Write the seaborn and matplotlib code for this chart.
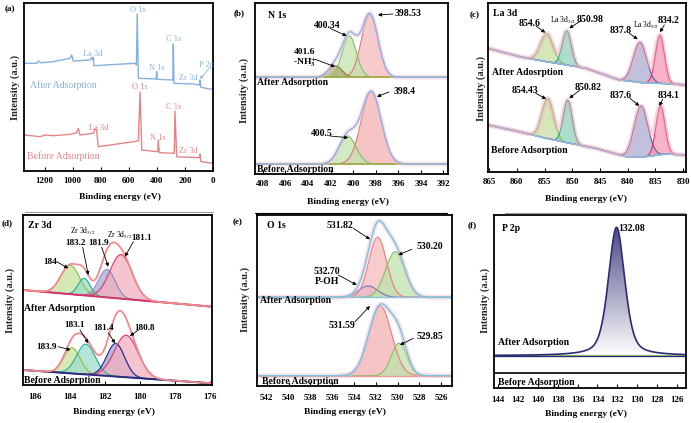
import numpy as np
import matplotlib.pyplot as plt
import seaborn as sns
from matplotlib.colors import LinearSegmentedColormap
from matplotlib.lines import Line2D

W, H = 691, 423

# ---------------- (a) survey spectra (binding energy eV / intensity a.u.) ----------------
survey_after_be = [1340, 1257, 1245, 1228, 1138, 1019, 1007, 996, 877, 865, 857, 853, 848,
                   556, 546, 540, 532, 406, 401, 397, 287, 283, 278, 140, 98, 93, 86, 9]
survey_after_int = [107.7, 107.7, 110, 108.3, 109.3, 112.7, 116, 110, 111, 113.7, 111, 113.7, 105.3,
                    107.7, 106, 157, 92.7, 92, 99.3, 91.7, 91, 127, 87.7, 87, 86, 91, 83.7, 81.7]
survey_before_be = [1340, 1233, 1197, 1138, 1019, 971, 960, 948, 853, 841, 829, 818,
                    532, 520, 508, 394, 390, 383, 276, 271, 259, 98, 93, 86, 0]
survey_before_int = [36, 34.3, 36, 35.3, 36.7, 38.3, 42.7, 36, 37.7, 42, 41, 24.3,
                     30, 79, 21, 19.3, 31, 18.3, 17.7, 60, 14.3, 13.3, 16.7, 9.3, 7.7]

# ---------------- (b) N 1s ----------------
n1s_after_bg_be = [408.7, 391.6]
n1s_after_bg_int = [96.7, 96.7]
n1s_after_centers = [398.53, 400.34, 401.6]
n1s_after_heights = [63.3, 41.3, 11.6]
n1s_after_fwhm = [1.71, 1.48, 1.4]
n1s_before_bg_be = [408.7, 391.6]
n1s_before_bg_int = [10, 10]
n1s_before_centers = [398.4, 400.5]
n1s_before_heights = [72.3, 28.0]
n1s_before_fwhm = [2.07, 1.77]

# ---------------- (c) La 3d ----------------
la3d_after_bg_be = [865.2, 859.5, 854.7, 851.1, 847.5, 841.5, 837.3, 831.8, 829.5]
la3d_after_bg_int = [123.4, 115, 110, 106.7, 103.4, 91.7, 89, 87.7, 86.7]
la3d_after_centers = [854.6, 850.98, 837.8, 834.2]
la3d_after_heights = [28, 34, 40, 48]
la3d_after_fwhm = [2.7, 1.9, 2.8, 1.9]
la3d_before_bg_be = [865.2, 859.5, 854.7, 850.5, 845.7, 840.3, 836.7, 833.1, 829.5]
la3d_before_bg_int = [46.7, 40, 33.4, 28.4, 23.4, 15, 15, 17.7, 16.7]
la3d_before_centers = [854.43, 850.82, 837.6, 834.1]
la3d_before_heights = [40, 42.7, 50.7, 48.7]
la3d_before_fwhm = [2.5, 1.9, 2.9, 1.9]

# ---------------- (d) Zr 3d ----------------
zr3d_after_bg_be = [186.7, 175.9]
zr3d_after_bg_int = [95, 78.3]
zr3d_after_centers = [184.0, 183.2, 181.9, 181.1]
zr3d_after_heights = [29, 17, 28, 44]
zr3d_after_fwhm = [1.25, 0.8, 1.1, 1.5]
zr3d_before_bg_be = [186.7, 175.9]
zr3d_before_bg_int = [15, 1.7]
zr3d_before_centers = [183.9, 183.1, 181.4, 180.8]
zr3d_before_heights = [25.7, 30.3, 33, 42]
zr3d_before_fwhm = [1.1, 1.25, 1.2, 1.6]

# ---------------- (e) O 1s ----------------
o1s_after_bg_be = [542.9, 525.0]
o1s_after_bg_int = [88.7, 88.7]
o1s_after_centers = [532.70, 531.82, 530.20]
o1s_after_heights = [11.3, 60, 45.6]
o1s_after_fwhm = [2.1, 1.9, 2.1]
o1s_before_bg_be = [542.9, 525.0]
o1s_before_bg_int = [10.3, 10.3]
o1s_before_centers = [531.59, 529.85]
o1s_before_heights = [69.7, 32.4]
o1s_before_fwhm = [2.45, 1.7]

# ---------------- (f) P 2p ----------------
p2p_after_bg_be = [144.4, 125.1]
p2p_after_bg_int = [32.3, 32.3]
p2p_after_centers = [132.08]
p2p_after_heights = [128.4]
p2p_after_fwhm = [1.95]
p2p_lorentz_frac = 0.45
p2p_divider = 14.7


def peak(x, c, h, fwhm, eta=0.0):
    g = np.exp(-4 * np.log(2) * ((x - c) / fwhm) ** 2)
    lo = 1 / (1 + 4 * ((x - c) / fwhm) ** 2)
    return h * ((1 - eta) * g + eta * lo)


sns.set_theme(style="white")
plt.rcParams["font.family"] = ["Liberation Serif", "DejaVu Serif"]
plt.rcParams["mathtext.fontset"] = "stix"

fig = plt.figure(figsize=(W / 100, H / 100), dpi=100)


def add_panel(l, t, r, b, xlim, ylim, ticks, pad):
    ax = fig.add_axes([l / W, 1 - b / H, (r - l) / W, (b - t) / H])
    ax.set_xlim(*xlim)
    ax.set_ylim(*ylim)
    ax.set_xticks(ticks)
    ax.set_xticklabels([str(t) for t in ticks], fontweight="bold")
    ax.set_yticks([])
    ax.tick_params(axis="x", direction="in", length=3, width=0.8, labelsize=6.5,
                   pad=pad, colors="black", bottom=True)
    for s in ax.spines.values():
        s.set_linewidth(1.3)
        s.set_color("black")
    return ax


def spectrum(ax, bg_be, bg_int, centers, heights, fwhms, edges, fills,
             env_col, bg_col, raw_col=None, bg_lw=1.0, env_lw=1.0, fill_alpha=0.75):
    lo, hi = sorted(ax.get_xlim())
    x = np.linspace(lo, hi, 800)
    base = np.interp(x, bg_be[::-1], bg_int[::-1])
    total = np.zeros_like(x)
    for c, h, f, ec, fc in zip(centers, heights, fwhms, edges, fills):
        comp = peak(x, c, h, f)
        ax.fill_between(x, base, base + comp, color=fc, alpha=fill_alpha, lw=0)
        sns.lineplot(x=x, y=base + comp, color=ec, lw=0.9, ax=ax)
        total += comp
    sns.lineplot(x=bg_be, y=bg_int, color=bg_col, lw=bg_lw, ax=ax)
    if raw_col is not None:
        sns.lineplot(x=x, y=base + total, color=raw_col, lw=3.5, alpha=0.45, ax=ax)
    if env_col is not None:
        sns.lineplot(x=x, y=base + total, color=env_col, lw=env_lw, ax=ax)
    return x, base, total


def ftext(x, y, s, ha="center", size=7, weight="bold", color="black", **kw):
    fig.text(x / W, 1 - y / H, s, ha=ha, va="center", fontsize=size,
             fontweight=weight, color=color, **kw)


def arrow(ax, x0, y0, x1, y1):
    ax.annotate("", xy=(x1 / W, 1 - y1 / H), xycoords="figure fraction",
                xytext=(x0 / W, 1 - y0 / H), textcoords="figure fraction",
                arrowprops=dict(arrowstyle="-|>", color="black", lw=0.6,
                                shrinkA=0, shrinkB=0, mutation_scale=5),
                annotation_clip=False)


def frame_labels(x_ylab, y_ylab, x_xlab, y_xlab, letter, lx, ly):
    fig.text(x_ylab / W, 1 - y_ylab / H, "Intensity (a.u.)", rotation=90,
             ha="center", va="center", fontsize=7.5, fontweight="bold")
    ftext(x_xlab, y_xlab, "Binding energy (eV)", size=6.8)
    ftext(lx, ly, letter, size=6.5)


# ===== (a) =====
blue_a, red_a = "#86b1df", "#e48585"
ax_a = add_panel(24, 3, 213, 171, (1347, 0), (0, 168), [1200, 1000, 800, 600, 400, 200, 0], 4)
sns.lineplot(x=survey_after_be, y=survey_after_int, sort=False, estimator=None,
             color=blue_a, lw=1.0, ax=ax_a)
sns.lineplot(x=survey_before_be, y=survey_before_int, sort=False, estimator=None,
             color=red_a, lw=1.0, ax=ax_a)
ax_a.set_xlim(1347, 0)
ax_a.set_ylim(0, 168)
for s, x, y in [("O 1s", 138.3, 10), ("La 3d", 92.3, 54), ("N 1s", 157.3, 68.3),
                ("C 1s", 173.3, 39.3), ("Zr 3d", 188.3, 78.3)]:
    ftext(x, y, s, size=6, weight="normal", color=blue_a)
ax_a.text(206.7 / W, 1 - 65 / H, "P 2p", transform=fig.transFigure, ha="center", va="center",
          fontsize=6, color=blue_a, clip_on=True)
ax_a.annotate("", xy=(200 / W, 1 - 79 / H), xycoords="figure fraction",
              xytext=(209 / W, 1 - 68.5 / H), textcoords="figure fraction",
              arrowprops=dict(arrowstyle="-|>", color=blue_a, lw=0.6, shrinkA=0, shrinkB=0,
                              mutation_scale=4), annotation_clip=False)
for s, x, y in [("O 1s", 140, 87.3), ("La 3d", 99, 127.7), ("N 1s", 158.3, 138.3),
                ("C 1s", 174, 106.7), ("Zr 3d", 188.3, 151)]:
    ftext(x, y, s, size=6, weight="normal", color=red_a)
ftext(30, 85, "After Adsorption", ha="left", size=7, weight="normal", color=blue_a)
ftext(27.3, 155.7, "Before Adsorption", ha="left", size=7, weight="normal", color=red_a)
frame_labels(15, 87.5, 120, 196.7, "(a)", 10, 9)

# ===== (b) =====
ax_b = add_panel(255, 3, 448, 174, (408.7, 391.6), (0, 171),
                 [408, 406, 404, 402, 400, 398, 396, 394, 392], 4)
spectrum(ax_b, n1s_after_bg_be, n1s_after_bg_int, n1s_after_centers, n1s_after_heights,
         n1s_after_fwhm, ["#e67c7c", "#86c46e", "#8a8448"], ["#f5baba", "#c2e4ad", "#b3aa74"],
         "#8ab6e6", "#a6ad55", raw_col="#f6c2d4", bg_lw=1.4)
spectrum(ax_b, n1s_before_bg_be, n1s_before_bg_int, n1s_before_centers, n1s_before_heights,
         n1s_before_fwhm, ["#e67c7c", "#86c46e"], ["#f3b0b0", "#c2e4ad"],
         "#8ab6e6", "#a6ad55", raw_col="#f6c2d4", bg_lw=1.4)
ax_b.set_xlim(408.7, 391.6)
ax_b.set_ylim(0, 171)
ftext(268, 15, "N 1s", ha="left")
ftext(395, 14, "398.53", ha="left")
arrow(ax_b, 393, 14, 378, 15)
ftext(326.7, 25, "400.34")
arrow(ax_b, 330, 28.3, 346.7, 36)
ftext(304, 52.3, "401.6", size=6.8)
ftext(305, 62.3, r"-NH$_\mathbf{3}^{\mathbf{+}}$", size=6.8)
arrow(ax_b, 315, 59.3, 335, 66.7)
ftext(256.7, 82.7, "After Adsorption", ha="left")
ftext(394, 91.7, "398.4", ha="left")
arrow(ax_b, 389, 92, 377, 96.7)
ftext(321.7, 133.3, "400.5")
arrow(ax_b, 330, 136, 348.3, 137.7)
ftext(256.7, 169.3, "Before Adsorption", ha="left")
frame_labels(244, 90, 347.5, 201.7, "(b)", 239, 12.7)

# ===== (c) =====
ax_c = add_panel(488, 3, 686, 171.7, (865.2, 829.5), (0, 168.7),
                 [865, 860, 855, 850, 845, 840, 835, 830], 4.5)
c_edges = ["#93c35a", "#2fa58a", "#6b6a9c", "#e8336e"]
c_fills = ["#c8e0a0", "#8fd3c0", "#aeacd0", "#f59ab5"]
spectrum(ax_c, la3d_after_bg_be, la3d_after_bg_int, la3d_after_centers, la3d_after_heights,
         la3d_after_fwhm, c_edges, c_fills, None, "#8cbce4", raw_col="#f0a8bc", bg_lw=1.2)
spectrum(ax_c, la3d_before_bg_be, la3d_before_bg_int, la3d_before_centers, la3d_before_heights,
         la3d_before_fwhm, c_edges, c_fills, None, "#8cbce4", raw_col="#f0a8bc", bg_lw=1.2)
ax_c.set_xlim(865.2, 829.5)
ax_c.set_ylim(0, 168.7)
ftext(492.7, 14, "La 3d", ha="left")
ftext(529.3, 24, "854.6")
arrow(ax_c, 536, 26, 545.3, 32.7)
ftext(563, 20, r"La 3d$_{3/2}$", size=5.5, weight="normal")
ftext(590.5, 19, "850.98")
arrow(ax_c, 581, 20.7, 569.3, 28.3)
ftext(646, 25, r"La 3d$_{5/2}$", size=5.5, weight="normal")
ftext(621, 30.7, "837.8")
arrow(ax_c, 629.3, 33.3, 637.7, 39.3)
ftext(668, 20.7, "834.2")
arrow(ax_c, 664.3, 25, 660, 32.3)
ftext(492, 72.7, "After Adosrption", ha="left")
ftext(525.3, 90.7, "854.43")
arrow(ax_c, 536, 93.3, 546, 99)
ftext(588, 87.3, "850.82")
arrow(ax_c, 580, 90, 569.3, 98.3)
ftext(621, 95, "837.6")
arrow(ax_c, 630, 98.3, 639.3, 106)
ftext(669, 96, "834.1")
arrow(ax_c, 662.7, 99.3, 659.3, 106)
ftext(491, 150, "Before Adsorption", ha="left")
frame_labels(481, 88, 585.8, 199, "(c)", 475, 15)

# ===== (d) =====
ax_d = add_panel(23, 215, 212, 385, (186.7, 175.9), (0, 170), [186, 184, 182, 180, 178, 176], 6)
spectrum(ax_d, zr3d_after_bg_be, zr3d_after_bg_int, zr3d_after_centers, zr3d_after_heights,
         zr3d_after_fwhm, ["#8dc34e", "#2fb39b", "#8e90c0", "#e0407a"],
         ["#c6e29c", "#9fdccd", "#a8aad0", "#f4b0bf"], "#f08c8c", "#d6336c", bg_lw=1.4, env_lw=1.3)
spectrum(ax_d, zr3d_before_bg_be, zr3d_before_bg_int, zr3d_before_centers, zr3d_before_heights,
         zr3d_before_fwhm, ["#8dc34e", "#2fb39b", "#2b2e8c", "#e0407a"],
         ["#c6e29c", "#9fdccd", "#9ea2d4", "#f4b0bf"], "#f08c8c", "#2a2a7e", bg_lw=1.4, env_lw=1.3)
ax_d.set_xlim(186.7, 175.9)
ax_d.set_ylim(0, 170)
ftext(28, 225, "Zr 3d", ha="left")
ftext(82.7, 231.7, r"Zr 3d$_{3/2}$", size=5.5, weight="normal")
ftext(119.3, 235, r"Zr 3d$_{5/2}$", size=5.5, weight="normal")
ftext(50, 261.7, "184", size=6.6)
arrow(ax_d, 56.7, 261.7, 68.3, 268.3)
ftext(76, 243.3, "183.2", size=6.6)
arrow(ax_d, 82.7, 247.3, 88.3, 275)
ftext(99, 243.3, "181.9", size=6.6)
arrow(ax_d, 101.7, 247.3, 108.3, 266.7)
ftext(141.7, 238.3, "181.1", size=6.6)
arrow(ax_d, 133.3, 241.7, 125, 256.7)
ftext(24, 308.3, "After Adsorption", ha="left")
ftext(46.7, 347.3, "183.9", size=6.6)
arrow(ax_d, 58.3, 346.7, 70.7, 350)
ftext(75, 325, "183.1", size=6.6)
arrow(ax_d, 80, 330, 88.3, 343.3)
ftext(103.3, 328.3, "181.4", size=6.6)
arrow(ax_d, 108.3, 332.7, 115, 343.3)
ftext(145, 328.3, "180.8", size=6.6)
arrow(ax_d, 138.3, 330, 130, 336)
ftext(24, 380.7, "Before Adsorption", ha="left")
frame_labels(10, 300, 114, 411.7, "(d)", 7, 223.3)

# ===== (e) =====
ax_e = add_panel(257, 215, 452, 386, (542.9, 525.0), (0, 171),
                 [542, 540, 538, 536, 534, 532, 530, 528, 526], 6)
spectrum(ax_e, o1s_after_bg_be, o1s_after_bg_int, o1s_after_centers, o1s_after_heights,
         o1s_after_fwhm, ["#7c7cb8", "#ec8484", "#88c46e"], ["#b4b4dc", "#f6bcbc", "#bfe3ab"],
         "#74c6dc", "#8ec4dc", raw_col="#f5b8d0")
spectrum(ax_e, o1s_before_bg_be, o1s_before_bg_int, o1s_before_centers, o1s_before_heights,
         o1s_before_fwhm, ["#ec8484", "#88c46e"], ["#f3b0b0", "#bfe3ab"],
         "#74c6dc", "#e89a9a", raw_col="#f5b8d0")
ax_e.set_xlim(542.9, 525.0)
ax_e.set_ylim(0, 171)
ftext(266.7, 225.7, "O 1s", ha="left")
ftext(340, 225, "531.82")
arrow(ax_e, 353.3, 228.3, 370, 239.3)
ftext(430, 246.7, "530.20")
arrow(ax_e, 411.7, 249.3, 398.3, 255)
ftext(326.7, 271.7, "532.70")
ftext(326.7, 281, "P-OH")
arrow(ax_e, 338.3, 275, 356.7, 285)
ftext(260, 300.7, "After Adsorption", ha="left")
ftext(341.7, 325, "531.59")
arrow(ax_e, 355, 321.7, 370, 306)
ftext(430, 336, "529.85")
arrow(ax_e, 413.3, 338.3, 400, 345)
ftext(262, 381, "Before Adsorption", ha="left")
frame_labels(245, 299, 345, 411.7, "(e)", 237.5, 221.7)

# ===== (f) =====
ax_f = add_panel(494, 215, 686, 388, (144.4, 125.1), (0, 173),
                 [144, 142, 140, 138, 136, 134, 132, 130, 128, 126], 6)
xf = np.linspace(125.1, 144.4, 800)
basef = np.interp(xf, p2p_after_bg_be[::-1], p2p_after_bg_int[::-1])
pf = basef + peak(xf, p2p_after_centers[0], p2p_after_heights[0], p2p_after_fwhm[0],
                  p2p_lorentz_frac)
poly = ax_f.fill_between(xf, basef, pf, facecolor="none", lw=0)
grad = np.linspace(0, 1, 256).reshape(-1, 1)
cmap = LinearSegmentedColormap.from_list("pf", ["#ffffff", "#4b4b86"])
im = ax_f.imshow(grad, extent=(144.4, 125.1, p2p_after_bg_int[0], pf.max()), origin="lower",
                 aspect="auto", cmap=cmap, zorder=1)
im.set_clip_path(poly.get_paths()[0], transform=ax_f.transData)
sns.lineplot(x=p2p_after_bg_be, y=p2p_after_bg_int, color="#9cc46a", lw=1.6, ax=ax_f)
sns.lineplot(x=p2p_after_bg_be, y=p2p_after_bg_int, color="#2b2c78", lw=0.9, ax=ax_f)
sns.lineplot(x=xf, y=pf, color="#2b2c78", lw=1.2, ax=ax_f)
ax_f.axhline(p2p_divider, color="black", lw=1.2)
ax_f.set_xlim(144.4, 125.1)
ax_f.set_ylim(0, 173)
ftext(501.7, 228.3, "P 2p", ha="left")
ftext(618.3, 228.3, "132.08", ha="left")
ftext(498.3, 342.7, "After Adsorption", ha="left")
ftext(498.3, 382.3, "Before Adsorption", ha="left")
frame_labels(485, 300, 585.8, 414, "(f)", 471.7, 225)

# separator rules under the top row
fig.add_artist(Line2D([25 / W, 213 / W], [1 - 212 / H] * 2, color="#9a9a9a", lw=0.8))
fig.add_artist(Line2D([255 / W, 447 / W], [1 - 213 / H] * 2, color="black", lw=0.8))
fig.add_artist(Line2D([505 / W, 685 / W], [1 - 213 / H] * 2, color="#9a9a9a", lw=0.8))

for ax in [ax_a, ax_b, ax_c, ax_d, ax_e, ax_f]:
    ax.set_xlabel("")
    ax.set_ylabel("")

fig.savefig("out.png", dpi=100)
